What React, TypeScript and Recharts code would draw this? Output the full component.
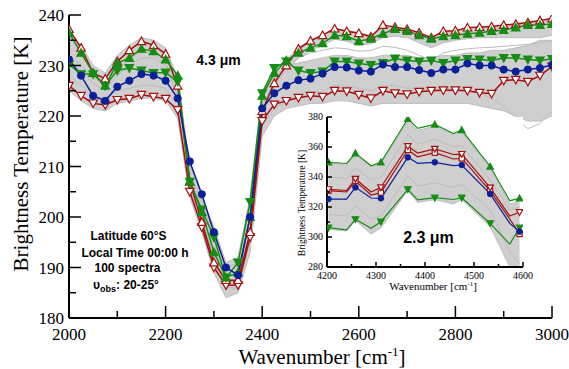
import React from 'react'
import { ComposedChart, Line, Area, XAxis, YAxis } from 'recharts'

// 4.3 um band, values read every 25 cm-1
const wavenumber = [
  2000, 2025, 2050, 2075, 2100, 2125, 2150, 2175, 2200, 2225,
  2250, 2275, 2300, 2325, 2350, 2375, 2400,
  2425, 2450, 2475, 2500, 2525, 2550, 2575, 2600, 2625, 2650, 2675, 2700,
  2725, 2750, 2775, 2800, 2825, 2850, 2875, 2900, 2925, 2950, 2975, 3000,
]
const redMax = [
  237.2, 233.5, 228.5, 227.4, 230.8, 233, 234.8, 234, 232.3, 226,
  207, 199, 191, 187.5, 187.5, 197, 221,
  226.5, 230, 233.3, 234.9, 236, 237.3, 236.8, 236.4, 235.7, 238, 237.6, 237.2,
  236.5, 235.5, 236.8, 236.9, 237.5, 237.6, 237.7, 238, 238.2, 238.5, 238.9, 239.3,
]
const greenMax = [
  236.5, 232.5, 228.5, 226, 230.5, 231.5, 233.3, 232.8, 231.2, 228,
  207, 201, 193, 188, 189, 200, 224,
  228.5, 231, 232.5, 233.5, 234.4, 236, 235.8, 234.8, 235.3, 236.3, 237.2, 236.8,
  236, 235.3, 235.8, 236, 236.3, 236.5, 236.8, 237, 237.5, 238, 238, 238.2,
]
const meanSpectrum = [
  231.2, 228, 224, 223, 225.8, 227, 228.3, 228, 227, 223.5,
  211, 204.5, 197, 190, 188.5, 200, 221.5,
  224.5, 226, 227.1, 227.4, 228.4, 229.7, 229.6, 229, 228.8, 230.2, 229.7, 229.7,
  229.1, 228.5, 229.2, 229.2, 230.4, 230, 230, 229.2, 228.8, 229.2, 229.5, 230.1,
]
const greenMin = [
  230.2, 228.3, 228.3, 226, 229, 229.5, 229, 228.5, 228.6, 226.8,
  207, 201.5, 196, 188, 191, 203, 224.5,
  229.5, 230.8, 229, 228.5, 228.8, 230.8, 230.8, 230.4, 230.1, 230.5, 231.4, 231,
  230.8, 231, 230.5, 231, 231.3, 231.2, 231, 231.5, 231.5, 231.2, 231, 231.3,
]
const redMin = [
  226, 224, 222.5, 222.2, 223.2, 223.4, 224.2, 223.8, 223.4, 221.2,
  205, 198, 190, 186.5, 186.5, 196, 219,
  222.3, 223, 223.6, 224, 223.8, 225, 224.9, 224.2, 223.5, 225, 224.5, 224.3,
  224.8, 225, 225.1, 225.1, 225, 224.6, 224.4, 227, 227.2, 226.8, 228, 229.8,
]
// envelope of the bulk of the 100 spectra
const bulkLow = [
  225, 223, 221.5, 221, 222.5, 223, 223.5, 223.5, 223, 219.5,
  204, 197, 189, 184, 185, 193, 216,
  220, 221.5, 222, 222.5, 222.5, 223, 223, 222.5, 222, 222.5, 222.5, 222.5,
  222.5, 222.5, 222.5, 222.5, 222.5, 222, 221.5, 221, 220, 219, 219, 220,
]
const bulkHigh = [
  234, 231, 228.5, 227.5, 230, 231, 232.5, 232.5, 231.5, 227,
  210.5, 204, 198, 191, 192, 204, 225,
  228.5, 230, 230.5, 231, 231.5, 232, 232, 231.5, 231.5, 232, 232, 232,
  231.5, 231.5, 232, 232, 232.5, 232.5, 233, 233, 233.5, 234, 235, 235,
]
// warm group of spectra near the maximum
const warmLow = [
  231, 229, 226.5, 225, 228, 230, 231.5, 231.5, 230, 224,
  205, 199, 191, 187, 187.5, 197, 220,
  226, 229, 231.5, 233, 234, 235.2, 234.8, 234, 234.3, 235.5, 235.8, 235.5,
  234.5, 233.5, 234.5, 235, 235.3, 235.5, 235.5, 235.5, 235.5, 235.5, 235.5, 236,
]
const warmHigh = [
  236.5, 234, 230, 228.5, 232, 234, 235.5, 235, 233.5, 227.5,
  209, 203, 196, 190, 191, 202, 224,
  228, 231, 233.5, 235, 236, 237, 237, 236.5, 236, 237.5, 237.5, 237.3,
  236.5, 235.5, 236.5, 237, 237.2, 237.4, 237.5, 237.7, 238, 238.3, 238.6, 239,
]
const spectrumA = [
  232, 230, 227.5, 226.5, 229.5, 231, 233, 232, 230.5, 226,
  208, 201, 194, 188.5, 189.5, 199, 222,
  227, 230, 231.5, 232.5, 233, 233.5, 233.3, 232.8, 233, 233.8, 233.6, 233,
  232, 231, 232.5, 233, 233.3, 233.5, 233.6, 233.8, 234, 234.2, 234.5, 235,
]
const spectrumB = [
  228, 226, 224, 223.5, 225, 225.5, 226, 226, 225.5, 222,
  206, 199.5, 192, 186, 186, 195, 218,
  221.5, 223, 224, 224.5, 225, 226, 226, 225.5, 225, 226, 226, 225.5,
  225.5, 225, 225.5, 225.5, 225, 224.5, 223.5, 222, 219.5, 217.5, 218.5, 221,
]
const mainXTicks = [2000, 2100, 2200, 2300, 2400, 2500, 2600, 2700, 2800, 2900, 3000]
const mainYTicks = [180, 185, 190, 195, 200, 205, 210, 215, 220, 225, 230, 235, 240]

// 2.3 um inset
const insetWavenumber = [4203, 4240, 4258, 4290, 4310, 4365, 4385, 4420, 4458, 4475, 4533, 4573, 4593]
const insetMarked = [1, 0, 1, 0, 1, 1, 0, 1, 0, 1, 1, 0, 1]
const insetGreenMax = [349.8, 349, 355.8, 347.5, 349.8, 378.7, 372.4, 375, 369, 371.3, 347, 324.2, 325.8]
const insetRedUpper = [331.8, 331, 338.7, 330, 333.1, 360.5, 356, 358.7, 355, 355.3, 332.9, 314, 316.5]
const insetRedLower = [330.9, 330, 337.3, 328, 329.6, 358, 353.5, 356.2, 352, 352.4, 330.7, 312, 302]
const insetMean = [325.3, 325.3, 333.1, 326, 325.8, 353.1, 349.1, 349.8, 347.6, 348, 328.7, 309.1, 303.6]
const insetGreenMin = [306.2, 304.7, 311.8, 305.8, 310.2, 331.8, 324.7, 326.2, 325, 326.2, 309.1, 295.3, 306.2]
const insetGrayLow = [305, 304, 311, 302, 306, 331, 323, 325, 322, 325, 307, 280, 280]
const insetGrayHigh = [349, 348, 355, 347, 349, 377, 371, 374, 368, 370, 346, 322, 324]
const insetGrayA = [340, 339, 346, 338, 340, 368, 362, 365, 360, 361, 338, 318, 320]
const insetGrayB = [315, 314, 321, 312, 314, 341, 334, 336, 333, 335, 318, 290, 282]
const insetXTicks = [4200, 4250, 4300, 4350, 4400, 4450, 4500, 4550, 4600]
const insetYTicks = [280, 290, 300, 310, 320, 330, 340, 350, 360, 370, 380]

const RED = '#a50f0f'
const GREEN = '#168c16'
const BLUE = '#0b1f99'
const GRAY_FILL = '#cfcfcf'
const GRAY_LINE = '#bdbdbd'
const SERIF = '"Liberation Serif", "Times New Roman", serif'
const SANS = '"Liberation Sans", Arial, sans-serif'

const mainRows = wavenumber.map((wn, i) => ({
  wn,
  redMax: redMax[i],
  greenMax: greenMax[i],
  mean: meanSpectrum[i],
  greenMin: greenMin[i],
  redMin: redMin[i],
  bulk: [bulkLow[i], bulkHigh[i]],
  warm: [warmLow[i], warmHigh[i]],
  a: spectrumA[i],
  b: spectrumB[i],
}))

const insetRows = insetWavenumber.map((wn, i) => ({
  wn,
  marked: insetMarked[i],
  greenMax: insetGreenMax[i],
  redUpper: insetRedUpper[i],
  redLower: insetRedLower[i],
  mean: insetMean[i],
  greenMin: insetGreenMin[i],
  gray: [insetGrayLow[i], insetGrayHigh[i]],
  a: insetGrayA[i],
  b: insetGrayB[i],
}))

type Shape = 'up' | 'down' | 'circle' | 'square'

function marker(shape: Shape, color: string, filled: boolean, s: number, onlyMarked = false) {
  return (p: any) => {
    const { cx, cy, index, payload } = p
    const key = `m-${index}`
    if (cx == null || cy == null || (onlyMarked && !payload?.marked)) return <g key={key} />
    const fill = filled ? color : '#fff'
    if (shape === 'circle')
      return <circle key={key} cx={cx} cy={cy} r={s} fill={fill} stroke={color} strokeWidth={1} />
    if (shape === 'square')
      return (
        <rect key={key} x={cx - s} y={cy - s} width={2 * s} height={2 * s} fill={fill} stroke={color} strokeWidth={1.2} />
      )
    const d =
      shape === 'up'
        ? `M${cx},${cy - s} L${cx + s},${cy + s * 0.8} L${cx - s},${cy + s * 0.8} Z`
        : `M${cx},${cy + s} L${cx + s},${cy - s * 0.8} L${cx - s},${cy - s * 0.8} Z`
    return <path key={key} d={d} fill={fill} stroke={color} strokeWidth={1.2} strokeLinejoin="miter" />
  }
}

type Side = 'left' | 'right' | 'top' | 'bottom'

function axisTick(side: Side, step: number, long: number, short: number, fontSize = 0, gap = 0, shift = 0) {
  return (p: any) => {
    const { x, y, payload } = p
    const v = payload.value
    const major = Math.abs(v % step) < 1e-6
    const len = major ? long : short
    let line
    if (side === 'left') line = <line x1={x} x2={x + len} y1={y} y2={y} />
    else if (side === 'right') line = <line x1={x} x2={x - len} y1={y} y2={y} />
    else if (side === 'top') line = <line x1={x} x2={x} y1={y} y2={y + len} />
    else line = <line x1={x} x2={x} y1={y} y2={y - len} />
    let label = null
    if (major && fontSize) {
      label =
        side === 'left' ? (
          <text x={x - gap} y={y + shift} textAnchor="end" fontSize={fontSize} fontFamily={SERIF} fill="#000" stroke="none">
            {v}
          </text>
        ) : (
          <text x={x} y={y + gap} textAnchor="middle" fontSize={fontSize} fontFamily={SERIF} fill="#000" stroke="none">
            {v}
          </text>
        )
    }
    return (
      <g>
        <g stroke="#000" strokeWidth={1.5}>{line}</g>
        {label}
      </g>
    )
  }
}

const frame = { stroke: '#000', strokeWidth: 2 }

function MainChart() {
  return (
    <ComposedChart width={569} height={369} data={mainRows} margin={{ top: 15, right: 17, bottom: 0, left: 9 }}>
      <XAxis
        type="number"
        dataKey="wn"
        domain={[2000, 3000]}
        allowDataOverflow
        ticks={mainXTicks}
        interval={0}
        height={51}
        tickSize={0}
        tickMargin={0}
        tickLine={false}
        axisLine={frame}
        tick={axisTick('bottom', 200, 12, 7, 17, 22)}
      />
      <XAxis
        xAxisId="top"
        orientation="top"
        type="number"
        dataKey="wn"
        domain={[2000, 3000]}
        allowDataOverflow
        ticks={mainXTicks}
        interval={0}
        height={0}
        tickSize={0}
        tickMargin={0}
        tickLine={false}
        axisLine={frame}
        tick={axisTick('top', 200, 12, 7)}
      />
      <YAxis
        type="number"
        domain={[180, 240]}
        allowDataOverflow
        ticks={mainYTicks}
        interval={0}
        width={60}
        tickSize={0}
        tickMargin={0}
        tickLine={false}
        axisLine={frame}
        tick={axisTick('left', 10, 12, 7, 17, 5, 6)}
      />
      <YAxis
        yAxisId="right"
        orientation="right"
        type="number"
        domain={[180, 240]}
        allowDataOverflow
        ticks={mainYTicks}
        interval={0}
        width={0}
        tickSize={0}
        tickMargin={0}
        tickLine={false}
        axisLine={frame}
        tick={axisTick('right', 10, 12, 7)}
      />
      <Area dataKey="bulk" type="linear" stroke={GRAY_LINE} strokeWidth={1} fill={GRAY_FILL} fillOpacity={1} isAnimationActive={false} activeDot={false} />
      <Area dataKey="warm" type="linear" stroke={GRAY_LINE} strokeWidth={1} fill={GRAY_FILL} fillOpacity={1} isAnimationActive={false} activeDot={false} />
      <Line dataKey="a" type="linear" stroke={GRAY_LINE} strokeWidth={1} dot={false} activeDot={false} isAnimationActive={false} />
      <Line dataKey="b" type="linear" stroke={GRAY_LINE} strokeWidth={1} dot={false} activeDot={false} isAnimationActive={false} />
      <Line dataKey="redMin" type="linear" stroke={RED} strokeWidth={1.5} dot={marker('down', RED, false, 4.2)} activeDot={false} isAnimationActive={false} />
      <Line dataKey="redMax" type="linear" stroke={RED} strokeWidth={1.5} dot={marker('up', RED, false, 4.2)} activeDot={false} isAnimationActive={false} />
      <Line dataKey="greenMin" type="linear" stroke={GREEN} strokeWidth={1.5} dot={marker('down', GREEN, true, 4.2)} activeDot={false} isAnimationActive={false} />
      <Line dataKey="greenMax" type="linear" stroke={GREEN} strokeWidth={1.5} dot={marker('up', GREEN, true, 4.2)} activeDot={false} isAnimationActive={false} />
      <Line dataKey="mean" type="linear" stroke={BLUE} strokeWidth={1.5} dot={marker('circle', BLUE, true, 3.6)} activeDot={false} isAnimationActive={false} />
    </ComposedChart>
  )
}

function InsetChart() {
  return (
    <div style={{ position: 'absolute', left: 290, top: 110, width: 260, height: 185 }}>
      <div style={{ position: 'absolute', left: 37, top: 7, width: 196, height: 150, background: '#fff' }} />
      <div style={{ position: 'absolute', left: 0, top: 0 }}>
        <ComposedChart width={260} height={185} data={insetRows} margin={{ top: 7, right: 27, bottom: 0, left: 7 }}>
          <XAxis
            type="number"
            dataKey="wn"
            domain={[4200, 4600]}
            allowDataOverflow
            ticks={insetXTicks}
            interval={0}
            height={28}
            tickSize={0}
            tickMargin={0}
            tickLine={false}
            axisLine={frame}
            tick={axisTick('bottom', 100, 5, 3, 10, 12)}
          />
          <XAxis
            xAxisId="top"
            orientation="top"
            type="number"
            dataKey="wn"
            domain={[4200, 4600]}
            allowDataOverflow
            ticks={insetXTicks}
            interval={0}
            height={0}
            tickSize={0}
            tickMargin={0}
            tickLine={false}
            axisLine={frame}
            tick={axisTick('top', 100, 5, 3)}
          />
          <YAxis
            type="number"
            domain={[280, 380]}
            allowDataOverflow
            ticks={insetYTicks}
            interval={0}
            width={30}
            tickSize={0}
            tickMargin={0}
            tickLine={false}
            axisLine={frame}
            tick={axisTick('left', 20, 5, 3, 10, 4, 3)}
          />
          <YAxis
            yAxisId="right"
            orientation="right"
            type="number"
            domain={[280, 380]}
            allowDataOverflow
            ticks={insetYTicks}
            interval={0}
            width={0}
            tickSize={0}
            tickMargin={0}
            tickLine={false}
            axisLine={frame}
            tick={axisTick('right', 20, 5, 3)}
          />
          <Area dataKey="gray" type="linear" stroke={GRAY_LINE} strokeWidth={1} fill={GRAY_FILL} fillOpacity={1} isAnimationActive={false} activeDot={false} />
          <Line dataKey="a" type="linear" stroke={GRAY_LINE} strokeWidth={1} dot={false} activeDot={false} isAnimationActive={false} />
          <Line dataKey="b" type="linear" stroke={GRAY_LINE} strokeWidth={1} dot={false} activeDot={false} isAnimationActive={false} />
          <Line dataKey="greenMax" type="linear" stroke={GREEN} strokeWidth={1.2} dot={marker('up', GREEN, true, 3.2, true)} activeDot={false} isAnimationActive={false} />
          <Line dataKey="greenMin" type="linear" stroke={GREEN} strokeWidth={1.2} dot={marker('down', GREEN, true, 3.2, true)} activeDot={false} isAnimationActive={false} />
          <Line dataKey="redLower" type="linear" stroke={RED} strokeWidth={1.2} dot={marker('square', RED, false, 2.6, true)} activeDot={false} isAnimationActive={false} />
          <Line dataKey="redUpper" type="linear" stroke={RED} strokeWidth={1.2} dot={marker('down', RED, false, 3.2, true)} activeDot={false} isAnimationActive={false} />
          <Line dataKey="mean" type="linear" stroke={BLUE} strokeWidth={1.2} dot={marker('circle', BLUE, true, 2.8, true)} activeDot={false} isAnimationActive={false} />
        </ComposedChart>
      </div>
    </div>
  )
}

function Annotations() {
  return (
    <svg width={569} height={369} style={{ position: 'absolute', left: 0, top: 0, pointerEvents: 'none' }}>
      <text x={322} y={364} textAnchor="middle" fontFamily={SERIF} fontSize={21}>
        Wavenumber [cm<tspan dy={-8} fontSize={13}>-1</tspan><tspan dy={8}>]</tspan>
      </text>
      <text x={28} y={154} textAnchor="middle" fontFamily={SERIF} fontSize={21} transform="rotate(-90, 28, 154)">
        Brightness Temperature [K]
      </text>
      <text x={218.5} y={65} textAnchor="middle" fontFamily={SANS} fontWeight="bold" fontSize={14}>
        4.3 μm
      </text>
      <g fontFamily={SANS} fontWeight="bold" fontSize={12} textAnchor="middle">
        <text x={128.5} y={240}>Latitude 60°S</text>
        <text x={135} y={256.5}>Local Time 00:00 h</text>
        <text x={127.5} y={272}>100 spectra</text>
        <text x={126} y={289}>
          υ<tspan dy={3} fontSize={9}>obs</tspan><tspan dy={-3}>: 20-25°</tspan>
        </text>
      </g>
      <text x={428.5} y={243} textAnchor="middle" fontFamily={SANS} fontWeight="bold" fontSize={16}>
        2.3 μm
      </text>
      <text x={433} y={290} textAnchor="middle" fontFamily={SERIF} fontSize={11}>
        Wavenumber [cm<tspan dy={-4} fontSize={7}>-1</tspan><tspan dy={4}>]</tspan>
      </text>
      <text x={304.5} y={203} textAnchor="middle" fontFamily={SERIF} fontSize={9.5} transform="rotate(-90, 304.5, 203)">
        Brightness Temperature [K]
      </text>
    </svg>
  )
}

export default function App() {
  return (
    <div style={{ position: 'absolute', left: 0, top: 0, width: 569, height: 369, background: '#fff' }}>
      <MainChart />
      <InsetChart />
      <Annotations />
    </div>
  )
}
